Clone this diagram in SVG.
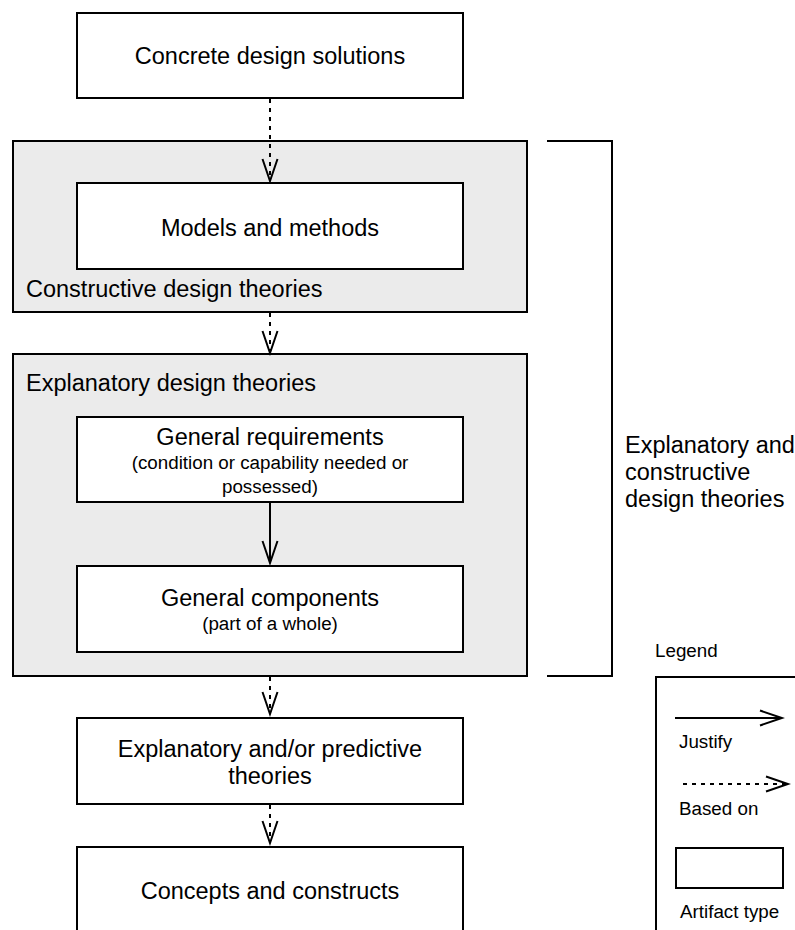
<svg xmlns="http://www.w3.org/2000/svg" width="795" height="930" viewBox="0 0 795 930">
<style>
  text { font-family: "Liberation Sans", Arial, Helvetica, sans-serif; fill: #000; }
  .t { font-size: 23.5px; }
  .s { font-size: 18.8px; }
  .c { text-anchor: middle; }
  .box { fill: #fff; stroke: #000; stroke-width: 2; }
  .grp { fill: #ebebeb; stroke: #000; stroke-width: 2; }
  .ln { fill: none; stroke: #000; stroke-width: 2; }
  .dash { stroke-dasharray: 4 5; }
</style>
<defs>
  <marker id="open" markerUnits="userSpaceOnUse" markerWidth="26" markerHeight="20" viewBox="0 0 26 20" refX="23" refY="10" orient="auto">
    <path d="M1,2.5 L23,10 L1,17.5" fill="none" stroke="#000" stroke-width="2"/>
  </marker>
</defs>
<rect width="795" height="930" fill="#fff"/>

<g id="concrete">
  <rect class="box" x="77" y="13" width="386" height="85"/>
  <text class="t c" x="270" y="64">Concrete design solutions</text>
</g>

<g id="constructive">
  <rect class="grp" x="13" y="141" width="514" height="171"/>
  <text class="t" x="26" y="297">Constructive design theories</text>
</g>
<g id="models">
  <rect class="box" x="77" y="183" width="386" height="86"/>
  <text class="t c" x="270" y="236">Models and methods</text>
</g>

<g id="explanatory">
  <rect class="grp" x="13" y="354" width="514" height="322"/>
  <text class="t" x="26" y="391">Explanatory design theories</text>
</g>
<g id="requirements">
  <rect class="box" x="77" y="417" width="386" height="85"/>
  <text class="t c" x="270" y="445">General requirements</text>
  <text class="s c" x="270" y="469">(condition or capability needed or</text>
  <text class="s c" x="270" y="493">possessed)</text>
</g>
<g id="components">
  <rect class="box" x="77" y="566" width="386" height="86"/>
  <text class="t c" x="270" y="606">General components</text>
  <text class="s c" x="270" y="630">(part of a whole)</text>
</g>

<g id="predictive">
  <rect class="box" x="77" y="718" width="386" height="86"/>
  <text class="t c" x="270" y="757">Explanatory and/or predictive</text>
  <text class="t c" x="270" y="784">theories</text>
</g>
<g id="concepts">
  <rect class="box" x="77" y="847" width="386" height="110"/>
  <text class="t c" x="270" y="899">Concepts and constructs</text>
</g>

<g id="bracket">
  <path class="ln" d="M547,141 H612 V676 H547"/>
  <text class="t" x="625" y="453">Explanatory and</text>
  <text class="t" x="625" y="480">constructive</text>
  <text class="t" x="625" y="507">design theories</text>
</g>

<g id="connectors">
  <line class="ln dash" x1="270" y1="99" x2="270" y2="181" marker-end="url(#open)"/>
  <line class="ln dash" x1="270" y1="313" x2="270" y2="353" marker-end="url(#open)"/>
  <line class="ln" x1="270" y1="503" x2="270" y2="563" marker-end="url(#open)"/>
  <line class="ln dash" x1="270" y1="677" x2="270" y2="714" marker-end="url(#open)"/>
  <line class="ln dash" x1="270" y1="805" x2="270" y2="843" marker-end="url(#open)"/>
</g>

<g id="legend">
  <text class="s" x="655" y="657">Legend</text>
  <rect class="ln" x="656" y="677" width="200" height="300"/>
  <line class="ln" x1="675" y1="718" x2="782" y2="718" marker-end="url(#open)"/>
  <text class="s" x="679" y="748">Justify</text>
  <line class="ln dash" x1="683" y1="784" x2="788" y2="784" marker-end="url(#open)"/>
  <text class="s" x="679" y="815">Based on</text>
  <rect class="box" x="676" y="848" width="107" height="40"/>
  <text class="s" x="680" y="918">Artifact type</text>
</g>
</svg>
